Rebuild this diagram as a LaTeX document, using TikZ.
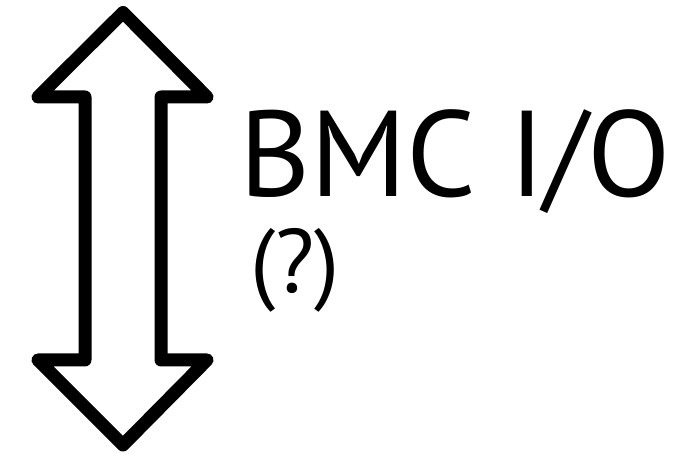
\documentclass[tikz,border=0pt]{standalone}
\usepackage{fontspec}
\setmainfont{PT Sans}
\usetikzlibrary{positioning}
\begin{document}
\begin{tikzpicture}[x=1pt,y=1pt,
 io/.style={draw=black,line width=13pt,line join=round},
 big/.style={inner sep=0pt,anchor=base west,font=\fontsize{122}{122}\selectfont},
 small/.style={inner sep=0pt,anchor=base west,font=\fontsize{90}{90}\selectfont}]
\useasboundingbox (0,0) rectangle (683,454);
% double arrow
\draw[io] (123,441.5) -- (207,357) -- (161,357) -- (161,94) -- (207,94) -- (123,9)
 -- (38,94) -- (85,94) -- (85,357) -- (38,357) -- cycle;
\node[big] (lbl) at (239,257) {BMC I/O};
\node[small] (note) at (250,161) {(?)};
\end{tikzpicture}
\end{document}
